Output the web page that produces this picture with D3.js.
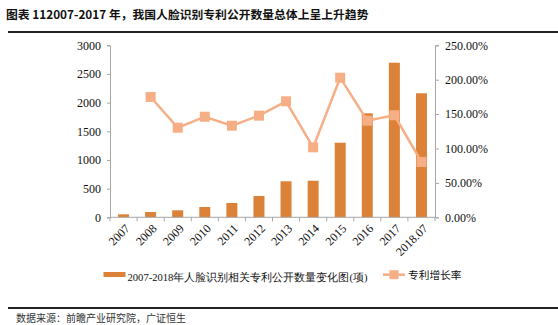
<!DOCTYPE html>
<html><head><meta charset="utf-8">
<script src="https://cdn.jsdelivr.net/npm/d3@7"></script>
<style>body{margin:0;background:#fff}svg{display:block}</style>
</head><body>
<svg id="c" width="558" height="325"></svg>
<script>
const categories = ["2007","2008","2009","2010","2011","2012","2013","2014","2015","2016","2017","2018.07"];
const patentCounts = [52, 92, 122, 180, 250, 372, 628, 638, 1301, 1814, 2697, 2163];
const growthRates = [null, 1.749, 1.302, 1.462, 1.331, 1.477, 1.686, 1.017, 2.029, 1.404, 1.483, 0.804];
const leftTicks = [0, 500, 1000, 1500, 2000, 2500, 3000];
const rightTicks = [0, 0.5, 1.0, 1.5, 2.0, 2.5];
const title = "图表 112007-2017 年，我国人脸识别专利公开数量总体上呈上升趋势";
const source = "数据来源：前瞻产业研究院，广证恒生";
const barLabel = "2007-2018年人脸识别相关专利公开数量变化图(项)";
const lineLabel = "专利增长率";

const svg = d3.select("#c");
const m = {l:110, r:435, t:45.3, b:217.3};
const barColor = "#DB8238", lineColor = "#F6AE85", axisColor = "#A6A6A6";
const serif = "'Liberation Serif','Times New Roman',serif";
const cjk = "'Noto Sans CJK SC',sans-serif";

svg.append("text").attr("x",6).attr("y",19).attr("font-family",cjk).attr("font-weight","bold")
  .attr("font-size",11.8).attr("fill","#111").text(title);
svg.append("rect").attr("x",8).attr("y",31).attr("width",550).attr("height",2).attr("fill","#222");
svg.append("rect").attr("x",8).attr("y",307).attr("width",550).attr("height",2).attr("fill","#222");
svg.append("text").attr("x",16).attr("y",322).attr("font-family",cjk).attr("font-size",10)
  .attr("fill","#333").text(source);

const xb = d3.scaleBand().domain(categories).range([m.l, m.r]);
const yL = d3.scaleLinear().domain([0,3000]).range([m.b, m.t]);
const yR = d3.scaleLinear().domain([0,2.5]).range([m.b, m.t]);

const gl = svg.append("g").attr("transform",`translate(${m.l},0)`)
  .call(d3.axisLeft(yL).tickValues(leftTicks).tickSize(3).tickPadding(6).tickFormat(d3.format("d")));
const gr = svg.append("g").attr("transform",`translate(${m.r},0)`)
  .call(d3.axisRight(yR).tickValues(rightTicks).tickSize(4).tickPadding(6).tickFormat(d=>(d*100).toFixed(2)+"%"));
[gl,gr].forEach(g=>{
  g.select(".domain").attr("stroke",axisColor);
  g.selectAll(".tick line").attr("stroke",axisColor);
  g.selectAll("text").attr("font-family",serif).attr("font-size",12).attr("fill","#111");
});

svg.append("g").selectAll("rect").data(categories).join("rect")
  .attr("x",d=>xb(d)+xb.bandwidth()/2-5.5).attr("width",11)
  .attr("y",(d,i)=>yL(patentCounts[i])).attr("height",(d,i)=>m.b-yL(patentCounts[i]))
  .attr("fill",barColor);

const gx = svg.append("g").attr("transform",`translate(0,${m.b})`);
gx.append("line").attr("x1",m.l).attr("x2",m.r).attr("stroke",axisColor);
const bounds = categories.map(c=>xb(c)).concat([m.r]);
gx.selectAll("line.t").data(bounds).join("line").attr("class","t")
  .attr("x1",d=>d).attr("x2",d=>d).attr("y1",0).attr("y2",4).attr("stroke",axisColor);
gx.selectAll("text").data(categories).join("text")
  .attr("transform",d=>`translate(${xb(d)+xb.bandwidth()/2+4},${9}) rotate(-45)`)
  .attr("text-anchor","end").attr("dy","0.35em")
  .attr("font-family",serif).attr("font-size",12).attr("fill","#111").text(d=>d);

const pts = categories.map((c,i)=>({c, v:growthRates[i]})).filter(d=>d.v!==null);
svg.append("path").datum(pts)
  .attr("d",d3.line().x(d=>xb(d.c)+xb.bandwidth()/2).y(d=>yR(d.v)))
  .attr("fill","none").attr("stroke",lineColor).attr("stroke-width",2.5);
svg.append("g").selectAll("rect").data(pts).join("rect")
  .attr("x",d=>xb(d.c)+xb.bandwidth()/2-5).attr("y",d=>yR(d.v)-5)
  .attr("width",10).attr("height",10).attr("fill",lineColor);

svg.append("rect").attr("x",103.5).attr("y",272).attr("width",22).attr("height",5).attr("fill",barColor);
svg.append("text").attr("x",127.5).attr("y",281).attr("font-family",serif).attr("font-size",10.6)
  .attr("fill","#111").text(barLabel);
svg.append("line").attr("x1",383).attr("x2",405).attr("y1",274.7).attr("y2",274.7)
  .attr("stroke",lineColor).attr("stroke-width",2.5);
svg.append("rect").attr("x",389.5).attr("y",270.2).attr("width",9).attr("height",9).attr("fill",lineColor);
svg.append("text").attr("x",408).attr("y",279).attr("font-family",cjk).attr("font-size",10.7)
  .attr("fill","#111").text(lineLabel);
</script>
</body></html>
